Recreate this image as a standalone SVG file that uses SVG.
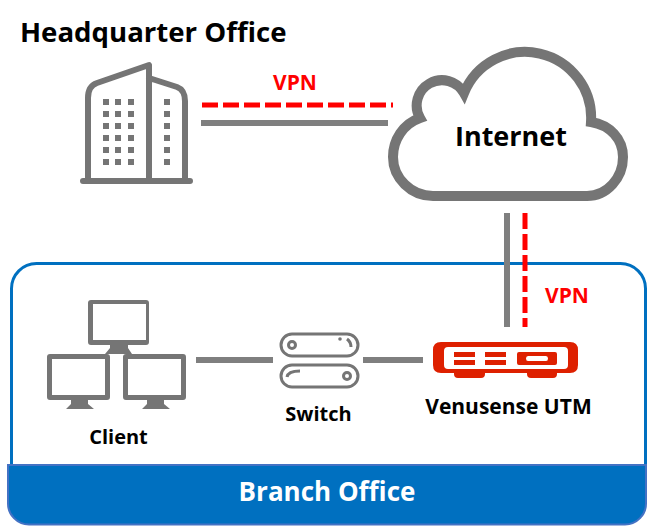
<svg xmlns="http://www.w3.org/2000/svg" width="648" height="527" viewBox="0 0 648 527">
<style>
text{font-family:"Open Sans","Noto Sans","Liberation Sans",sans-serif;font-weight:700;fill:#000}
.vpn{fill:#f00;font-size:21px}
.lbl{font-size:20px}
.g{fill:none;stroke:#757575}
.f{fill:#757575}
.conn{fill:none;stroke:#7f7f7f;stroke-width:6}
.red{fill:none;stroke:#f00;stroke-width:5;stroke-dasharray:16 5}
.utm{fill:#de2000}
</style>
<rect width="648" height="527" fill="#fff"/>
<g id="branch-office">
<rect x="11.500" y="263.500" width="634" height="245" rx="25" fill="#fff" stroke="#0070c0" stroke-width="3"/>
<path d="M8 465H646V503A21 21 0 0 1 625 524.500H29A21 21 0 0 1 8 503Z" fill="#0070c0" stroke="#4472c4" stroke-width="2"/>
<text x="327" y="501" text-anchor="middle" style="fill:#fff;font-size:26px">Branch Office</text>
</g>
<g id="connectors">
<path class="conn" d="M201 123H388M507 213V327M196 360H273M363 360H423"/>
<path class="red" d="M202 105H393"/>
<path class="red" d="M525 213V327"/>
<text class="vpn" x="273" y="90">VPN</text>
<text class="vpn" x="545" y="303">VPN</text>
</g>
<g id="headquarter">
<text x="20" y="42" style="font-size:27.600px">Headquarter Office</text>
<path class="g" stroke-width="6" stroke-linecap="round" stroke-linejoin="round" d="M83 181H190M88 181V98Q88 86 97 83L149 65V181M149 78L177 87Q185 90 185 101V181"/>
<g class="f">
<path d="M103 99h6v6h-6zM115 99h6v6h-6zM128 99h6v6h-6zM164 99h6v6h-6zM103 111h6v6h-6zM115 111h6v6h-6zM128 111h6v6h-6zM164 111h6v6h-6zM103 123h6v6h-6zM115 123h6v6h-6zM128 123h6v6h-6zM164 123h6v6h-6zM103 135h6v6h-6zM115 135h6v6h-6zM128 135h6v6h-6zM164 135h6v6h-6zM103 147h6v6h-6zM115 147h6v6h-6zM128 147h6v6h-6zM164 147h6v6h-6zM103 159h6v6h-6zM115 159h6v6h-6zM128 159h6v6h-6zM164 159h6v6h-6z"/>
</g>
</g>
<g id="internet">
<path class="g" stroke-width="10" d="M433 196H587C607 196 623 178 623 157C623 139 610 125 591 122A66 66 0 0 0 464 93A25 25 0 0 0 420 118C403 124 393 140 393 157C393 178 411 196 433 196Z"/>
<text x="511" y="146" text-anchor="middle" style="font-size:27px">Internet</text>
</g>
<g id="client">
<path class="f" d="M91 300H146Q149 300 149 303V342Q149 345 146 345H128V348L132 354H105L110 348V345H91Q88 345 88 342V303Q88 300 91 300ZM93 304V340H146V304Z" fill-rule="evenodd"/>
<path class="f" d="M50 354H107Q110 354 110 357V397Q110 400 107 400H88V404L94 409H66L71 404V400H50Q47 400 47 397V357Q47 354 50 354ZM52 359V395H105V359Z" fill-rule="evenodd"/>
<path class="f" d="M126 354H183Q186 354 186 357V397Q186 400 183 400H164V404L170 409H142L147 404V400H126Q123 400 123 397V357Q123 354 126 354ZM128 359V395H181V359Z" fill-rule="evenodd"/>
<text class="lbl" x="118.500" y="444" text-anchor="middle">Client</text>
</g>
<g id="switch">
<rect class="g" stroke-width="3" x="281" y="334" width="77" height="22" rx="11"/>
<rect class="g" stroke-width="3" x="281" y="365" width="77" height="22" rx="11"/>
<circle class="g" stroke-width="3" cx="292" cy="345" r="3.500"/>
<circle class="g" stroke-width="3" cx="347" cy="376" r="3.500"/>
<circle class="f" cx="340" cy="339" r="1.800"/>
<path class="g" stroke-width="3" d="M347 339Q351 342 351 347M287 377Q288 371 300 371"/>
<text class="lbl" x="318.500" y="421" text-anchor="middle">Switch</text>
</g>
<g id="venusense-utm">
<path class="utm" fill-rule="evenodd" d="M441 342H570Q578 342 578 350V365Q578 373 570 373H557V374Q557 378 553 378H531Q527 378 527 374V373H485V374Q485 378 481 378H458Q454 378 454 374V373H441Q433 373 433 365V350Q433 342 441 342ZM448 347Q444 347 444 351V365Q444 369 448 369H564Q568 369 568 365V351Q568 347 564 347Z"/>
<path class="utm" fill-rule="evenodd" d="M454 352H475V357H454ZM454 360H475V365H454ZM485 352H506V357H485ZM485 360H506V365H485ZM519 352H555Q557 352 557 354V363Q557 365 555 365H519Q517 365 517 363V354Q517 352 519 352ZM528 356Q526 356 526 358.500Q526 361 528 361H546Q548 361 548 358.500Q548 356 546 356Z"/>
<text class="lbl" x="508.500" y="414" text-anchor="middle" style="font-size:21px">Venusense UTM</text>
</g>
</svg>
